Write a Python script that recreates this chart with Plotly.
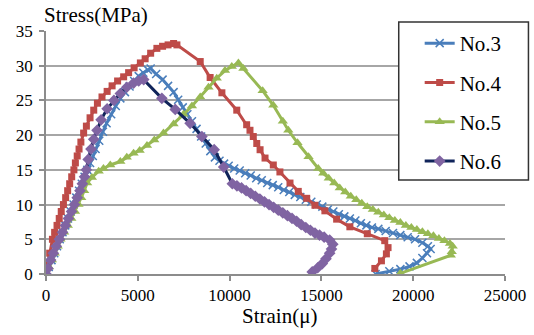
import plotly.graph_objects as go

# ---------------- data ----------------
no3_strain = [0, 150, 300, 450, 600, 750, 900, 1050, 1200, 1350, 1500, 1650, 1800, 1950, 2100, 2250,
              2400, 2550, 2700, 2900, 3100, 3300, 3550, 3800, 4050, 4300, 4550, 4800, 5050, 5300, 5550,
              5700, 6000, 6350, 6650, 6950, 7200, 7450, 7700, 7950, 8200, 8450, 8700, 8950, 9200, 9450,
              9700, 9950, 10250, 10550, 10850, 11150, 11450, 11750, 12050, 12350, 12650, 12950, 13250,
              13550, 13850, 14150, 14450, 14750, 15050, 15350, 15650, 15950, 16250, 16550, 16850, 17150,
              17450, 17750, 18100, 18500, 18900, 19300, 19700, 20100, 20500, 20800, 20950, 20750, 20500,
              20200, 19800, 19300, 18700, 17950]
no3_stress = [0, 1, 2, 3, 4, 5, 6, 7, 8, 9, 10, 11, 12, 13, 14, 15,
              16, 17, 18, 19.2, 20.5, 21.7, 23, 24.2, 25.3, 26.2, 27, 27.8, 28.5, 29, 29.4,
              29.6, 28.8, 28, 27.1, 26.2, 25.1, 24, 23, 22, 20.9, 19.8, 18.8, 17.7, 16.8, 16.3,
              15.9, 15.6, 15.2, 14.9, 14.5, 14.2, 13.8, 13.5, 13.1, 12.8, 12.5, 12.1, 11.8,
              11.4, 11.1, 10.7, 10.4, 10.0, 9.7, 9.3, 9.0, 8.6, 8.3, 8.0, 7.7, 7.3,
              7.0, 6.7, 6.5, 6.2, 5.9, 5.6, 5.3, 5.0, 4.5, 4.0, 3.6, 3.0, 2.3,
              1.6, 1.1, 0.7, 0.4, 0]

no4_strain = [0, 100, 200, 350, 470, 600, 720, 830, 950, 1070, 1180, 1290, 1400, 1520, 1600, 1700,
              1800, 1900, 2050, 2200, 2400, 2600, 2800, 3050, 3330, 3600, 3900, 4230, 4500, 4800, 5140,
              5400, 5700, 6040, 6350, 6650, 6950, 7130, 8400, 8940, 9580, 10390, 10930, 11110, 11290,
              11480, 11660, 11930, 12380, 12740, 13290, 13740, 14200, 14650, 15190, 15830, 16550, 17500,
              18450, 18630, 18540, 18270, 17910]
no4_stress = [0, 1.5, 3, 5, 6, 7, 8, 9, 10, 11, 12, 13, 14, 15, 16, 17,
              18, 19, 20.3, 21.3, 22.5, 23.6, 24.6, 25.5, 26.3, 27.1, 27.8, 28.4, 29, 29.7, 30.4,
              31, 31.8, 32.5, 32.8, 33, 33.2, 33.0, 30.6, 28.3, 26.1, 23.6, 21.5, 20.7, 19.8,
              18.8, 17.9, 16.7, 15.7, 14.7, 13.1, 11.9, 10.9, 9.9, 9.1, 7.9, 6.8, 5.8,
              4.8, 3.8, 2.9, 1.9, 0.8]

no5_strain = [0, 160, 320, 480, 640, 790, 990, 1190, 1380, 1580, 1770, 1920, 2080, 2240, 2500, 2870,
              3130, 3500, 4050, 4400, 4770, 5100, 5500, 5900, 6400, 6950, 7490, 7950, 8400, 8850, 9300,
              9750, 10120, 10480, 10750, 11800, 12380, 12900, 13200, 13700, 14300, 14830, 15100, 15400,
              15700, 16000, 16300, 16600, 16900, 17200, 17500, 17800, 18100, 18400, 18700, 19000, 19300,
              19600, 19900, 20200, 20500, 20800, 21100, 21400, 21700, 22000, 22150, 22100, 22050, 19300]
no5_stress = [0, 1, 2, 3, 4, 5, 6, 7, 8, 9, 10, 11, 12, 13.1, 13.9, 14.8,
              15.2, 15.7, 16.2, 16.8, 17.4, 17.8, 18.5, 19.3, 20.3, 21.6, 23.0, 24.2, 25.5, 26.9, 28.2,
              29.3, 29.9, 30.4, 29.6, 26.4, 24.3, 22.0, 20.7, 18.9, 16.9, 15.2, 14.5, 13.8,
              13.1, 12.4, 11.8, 11.2, 10.7, 10.2, 9.7, 9.3, 8.9, 8.5, 8.1, 7.7, 7.4,
              7.0, 6.7, 6.4, 6.1, 5.8, 5.5, 5.1, 4.8, 4.4, 4.0, 3.2, 2.7, 0.1]

no6_strain = [0, 100, 250, 400, 560, 730, 900, 1060, 1220, 1390, 1550, 1700, 1850, 1980, 2100, 2200,
              2300, 2450, 2600, 2780, 3000, 3330, 3700, 4050, 4400, 4770, 5050, 5320, 6310, 7040, 7850,
              8490, 9160, 9680, 10150, 10400, 10650, 10900, 11150, 11400, 11650, 11900, 12150, 12400,
              12650, 12900, 13150, 13400, 13650, 13900, 14150, 14400, 14650, 14900, 15150, 15450, 15620,
              15550, 15450, 15250, 15050, 14800, 14500]
no6_stress = [0, 0.8, 2, 3, 4, 5, 6, 7, 8, 9, 10, 11, 12, 13, 14, 15,
              16.5, 18, 19.4, 20.7, 22.2, 23.8, 25, 26, 26.9, 27.5, 27.8, 28.0, 25.3, 23.7, 21.7,
              19.8, 17.9, 15.4, 13.0, 12.7, 12.4, 12.0, 11.6, 11.2, 10.8, 10.4, 10.0, 9.6,
              9.2, 8.8, 8.4, 8.0, 7.6, 7.1, 6.7, 6.3, 5.9, 5.6, 5.3, 4.9, 4.3,
              3.6, 3.0, 2.2, 1.5, 0.9, 0.3]

series_names = ["No.3", "No.4", "No.5", "No.6"]
x_ticks = [0, 5000, 10000, 15000, 20000, 25000]
y_ticks = [0, 5, 10, 15, 20, 25, 30, 35]

# ---------------- figure ----------------
FONT = "Liberation Serif"
W, H = 534, 335
L, R, T, B = 45.5, 28.5, 31, 61
PW, PH = W - L - R, H - T - B


def px2paper_x(px):
    return (px - L) / PW


def px2paper_y(py):
    return (H - B - py) / PH


fig = go.Figure()

fig.add_trace(go.Scatter(
    x=no3_strain, y=no3_stress, name=series_names[0], mode="lines+markers", legendgroup="a",
    line=dict(color="#4A7EBB", width=3),
    marker=dict(symbol="x-thin", size=8, line=dict(color="#4A7EBB", width=1.5)),
))
fig.add_trace(go.Scatter(
    x=no4_strain, y=no4_stress, name=series_names[1], mode="lines+markers", legendgroup="b",
    line=dict(color="#BE4B48", width=3),
    marker=dict(symbol="square", size=7, color="#BE4B48"),
))
fig.add_trace(go.Scatter(
    x=no5_strain, y=no5_stress, name=series_names[2], mode="lines+markers", legendgroup="c",
    line=dict(color="#98B954", width=3),
    marker=dict(symbol="triangle-up", size=9, color="#98B954"),
))
fig.add_trace(go.Scatter(
    x=no6_strain, y=no6_stress, name=series_names[3], mode="lines+markers", legendgroup="d",
    line=dict(color="#10245A", width=3),
    marker=dict(symbol="diamond", size=9, color="#8064A2"),
))

fig.update_layout(
    width=W, height=H,
    margin=dict(l=L, r=R, t=T, b=B, pad=0, autoexpand=False),
    paper_bgcolor="white", plot_bgcolor="white",
    font=dict(family=FONT, size=17, color="black"),
    showlegend=True,
    legend=dict(
        x=px2paper_x(420), y=px2paper_y(23), xanchor="left", yanchor="top",
        bgcolor="rgba(0,0,0,0)", borderwidth=0, maxheight=400,
        font=dict(family=FONT, size=21, color="black"),
        tracegroupgap=9, itemwidth=30, traceorder="grouped",
    ),
    xaxis=dict(
        range=[0, 25000], tickvals=x_ticks, ticktext=[str(v) for v in x_ticks],
        showgrid=False, zeroline=False, automargin=False,
        showline=True, linecolor="#8c8c8c", linewidth=1.5,
        ticks="outside", ticklen=5, tickcolor="#8c8c8c", tickwidth=1.5,
        tickfont=dict(family=FONT, size=17, color="black"),
    ),
    yaxis=dict(
        range=[0, 35], tickvals=y_ticks, ticktext=[str(v) for v in y_ticks],
        showgrid=True, gridcolor="#a6a6a6", gridwidth=1.5, zeroline=False, automargin=False,
        showline=True, linecolor="#8c8c8c", linewidth=1.5,
        ticks="outside", ticklen=5, tickcolor="#8c8c8c", tickwidth=1.5,
        ticklabelstandoff=3,
        tickfont=dict(family=FONT, size=17, color="black"),
    ),
    shapes=[dict(
        type="rect", xref="paper", yref="paper", layer="above",
        x0=px2paper_x(399), x1=px2paper_x(529), y0=px2paper_y(180), y1=px2paper_y(22),
        line=dict(color="#333333", width=1.5), fillcolor="white",
    )],
    annotations=[
        dict(text="Stress(MPa)", xref="paper", yref="paper", x=px2paper_x(41), y=px2paper_y(15),
             xanchor="left", yanchor="middle", showarrow=False,
             font=dict(family=FONT, size=21, color="black")),
        dict(text="Strain(μ)", xref="paper", yref="paper", x=px2paper_x(280), y=px2paper_y(316),
             xanchor="center", yanchor="middle", showarrow=False,
             font=dict(family=FONT, size=21, color="black")),
    ],
)

fig.write_html("out.html", config={"displayModeBar": False},
               post_script="document.body.style.margin='0';document.body.style.overflow='hidden';")
